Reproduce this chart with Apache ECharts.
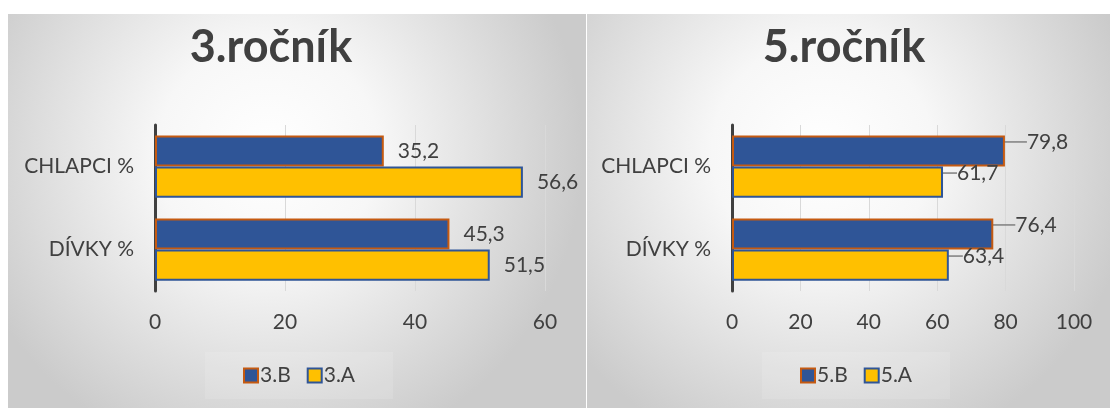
<!DOCTYPE html>
<html>
<head>
<meta charset="utf-8">
<script src="https://cdn.jsdelivr.net/npm/echarts@6/dist/echarts.min.js"></script>
<style>
  html, body { margin: 0; padding: 0; background: #ffffff; }
  #chart { width: 1110px; height: 408px; }
</style>
</head>
<body>
<div id="chart"></div>
<script>
// Categories (top to bottom)
const categories = ['CHLAPCI %', 'DÍVKY %'];

// 3rd grade
const title3 = '3.ročník';
const series3B = [35.2, 45.3];
const series3A = [56.6, 51.5];
const ticks3 = [0, 20, 40, 60];

// 5th grade
const title5 = '5.ročník';
const series5B = [79.8, 76.4];
const series5A = [61.7, 63.4];
const ticks5 = [0, 20, 40, 60, 80, 100];

const FONT = 'Lato, "Open Sans", sans-serif';
const TEXT = '#404040';
const BLUE = '#2F5597';
const ORANGE = '#C55A11';
const YELLOW = '#FFC000';
const FS = 21;

const fmt = p => String(p.value).replace('.', ',');

function panelBg(x, w, cx, cy) {
  return {
    type: 'rect',
    shape: { x: x, y: 14, width: w, height: 394 },
    style: {
      fill: {
        type: 'radial', x: cx, y: cy, r: 0.8,
        colorStops: [
          { offset: 0, color: '#ffffff' },
          { offset: 0.35, color: '#f7f7f7' },
          { offset: 1, color: '#cbcbcb' }
        ]
      }
    },
    z: -10
  };
}

function xAxis(gridIndex, ticks) {
  return {
    type: 'value', gridIndex: gridIndex,
    min: ticks[0], max: ticks[ticks.length - 1], interval: ticks[1] - ticks[0],
    axisLine: { show: false }, axisTick: { show: false },
    splitLine: { show: true, lineStyle: { color: '#d9d9d9', width: 1 } },
    axisLabel: { color: TEXT, fontFamily: FONT, fontSize: FS, margin: 21 }
  };
}

function yAxis(gridIndex) {
  return {
    type: 'category', gridIndex: gridIndex, data: categories, inverse: true,
    axisLine: { show: true, lineStyle: { color: '#404040', width: 3 } },
    axisTick: { show: false },
    axisLabel: { color: TEXT, fontFamily: FONT, fontSize: FS, margin: 21 }
  };
}

function barSeries(name, data, axisIndex, fill, border, labelExtra) {
  return Object.assign({
    name: name, type: 'bar',
    xAxisIndex: axisIndex, yAxisIndex: axisIndex,
    data: data,
    barGap: '0%', barCategoryGap: '25%',
    itemStyle: { color: fill, borderColor: border, borderWidth: 2 },
    label: {
      show: true, position: 'right', distance: 14,
      color: TEXT, fontFamily: FONT, fontSize: FS, formatter: fmt
    }
  }, labelExtra || {});
}

const legendStyle = {
  itemWidth: 14, itemHeight: 14, itemGap: 16,
  textStyle: { color: TEXT, fontFamily: FONT, fontSize: FS, padding: [0, 0, 0, -3] },
  backgroundColor: 'rgba(255,255,255,0.12)',
  padding: [13, 38, 13, 38],
  icon: 'rect'
};

const chart = echarts.init(document.getElementById('chart'), null, { renderer: 'canvas' });

chart.setOption({
  animation: false,
  graphic: [panelBg(8, 578, 0.45, 0.35), panelBg(587, 523, 0.45, 0.35)],
  title: [
    { text: title3, left: 266, top: 20, textAlign: 'center',
      textStyle: { color: TEXT, fontFamily: FONT, fontWeight: 'bold', fontSize: 45 } },
    { text: title5, left: 839, top: 20, textAlign: 'center',
      textStyle: { color: TEXT, fontFamily: FONT, fontWeight: 'bold', fontSize: 45 } }
  ],
  legend: [
    Object.assign({ data: ['3.B', '3.A'], left: 205, top: 352 }, legendStyle),
    Object.assign({ data: ['5.B', '5.A'], left: 762, top: 352 }, legendStyle)
  ],
  grid: [
    { left: 155, top: 125, width: 390, height: 166 },
    { left: 732, top: 125, width: 342, height: 166 }
  ],
  xAxis: [xAxis(0, ticks3), xAxis(1, ticks5)],
  yAxis: [yAxis(0), yAxis(1)],
  series: [
    barSeries('3.B', series3B, 0, BLUE, ORANGE),
    barSeries('3.A', series3A, 0, YELLOW, BLUE),
    barSeries('5.B', series5B, 1, BLUE, ORANGE, {
      labelLayout: { dx: 8, dy: -9 },
      labelLine: { show: true, lineStyle: { color: '#7f7f7f', width: 1.5 } }
    }),
    barSeries('5.A', series5A, 1, YELLOW, BLUE, {
      labelLayout: { dx: 0, dy: -9 },
      labelLine: { show: true, lineStyle: { color: '#7f7f7f', width: 1.5 } }
    })
  ]
});
</script>
</body>
</html>
